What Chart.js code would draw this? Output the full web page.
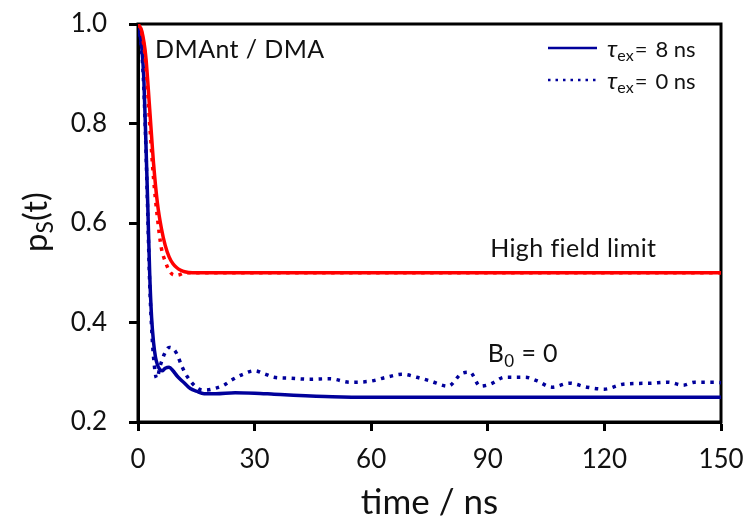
<!DOCTYPE html>
<html>
<head>
<meta charset="utf-8">
<script src="https://cdn.jsdelivr.net/npm/chart.js@4.4.0/dist/chart.umd.min.js"></script>
<style>
  html, body { margin: 0; padding: 0; background: #fff; }
  #wrap { width: 745px; height: 524px; }
</style>
</head>
<body>
<div id="wrap"><canvas id="chart" width="745" height="524"></canvas></div>
<script>
const xTicks = [0, 30, 60, 90, 120, 150];
const yTicks = [0.2, 0.4, 0.6, 0.8, 1.0];

// high field limit, tau_ex = 8 ns
const tRedSolid = [0, 1, 2, 3, 4, 5, 6, 7, 8, 9, 10, 11, 12, 14, 16, 150];
const redSolid  = [1.0, 0.985, 0.935, 0.83, 0.72, 0.64, 0.59, 0.555, 0.532, 0.518, 0.51, 0.505, 0.502, 0.5, 0.5, 0.5];

// high field limit, tau_ex = 0 ns
const tRedDot = [0, 1, 2, 3, 4, 5, 6, 7, 8, 9, 10, 11, 12, 150];
const redDot  = [1.0, 0.98, 0.92, 0.8, 0.69, 0.61, 0.55, 0.523, 0.505, 0.496, 0.495, 0.497, 0.5, 0.5];

// B0 = 0, tau_ex = 8 ns
const tBlueSolid = [0, 1, 1.5, 2, 2.5, 3, 3.5, 4, 4.5, 5, 5.5, 6.2, 7, 8, 9, 10, 11, 12, 13, 14, 15, 17, 20, 25, 30, 35, 40, 50, 60, 150];
const blueSolid  = [1.0, 0.95, 0.89, 0.77, 0.64, 0.5, 0.41, 0.36, 0.33, 0.315, 0.307, 0.303, 0.308, 0.31, 0.303, 0.293, 0.285, 0.278, 0.27, 0.265, 0.262, 0.257, 0.257, 0.259, 0.258, 0.256, 0.254, 0.251, 0.25, 0.25];

// B0 = 0, tau_ex = 0 ns
const tBlueDot = [0, 1, 1.5, 2, 2.5, 3, 3.5, 4, 4.8, 5.8, 6.7, 8, 9.7, 11.4, 12.7, 15.3, 17.4, 20, 22.1, 24, 27, 30, 32.5, 35, 39, 44, 49.4, 54.5, 59.7, 64, 68, 71.7, 75, 79.8, 83.4, 85.4, 88, 90.6, 94.4, 99.6, 102.6, 106.5, 111, 115.5, 120, 124.8, 131.7, 136.4, 140.2, 143.3, 148, 150];
const blueDot  = [1.0, 0.94, 0.87, 0.76, 0.62, 0.48, 0.39, 0.33, 0.288, 0.315, 0.335, 0.35, 0.341, 0.31, 0.291, 0.268, 0.264, 0.268, 0.274, 0.284, 0.296, 0.303, 0.297, 0.29, 0.288, 0.286, 0.287, 0.28, 0.282, 0.29, 0.296, 0.29, 0.283, 0.272, 0.298, 0.3, 0.272, 0.276, 0.29, 0.29, 0.283, 0.27, 0.278, 0.27, 0.266, 0.276, 0.278, 0.28, 0.274, 0.28, 0.28, 0.279];

const RED = '#ff0000';
const BLUE = '#00009b';
const FONT = "Lato, 'DejaVu Sans', sans-serif";

function pairs(xs, ys) {
    return xs.map((x, i) => ({ x: x, y: ys[i] }));
}

function series(xs, ys, color, dotted) {
    return {
        data: pairs(xs, ys),
        borderColor: color,
        borderWidth: 3.5,
        borderDash: dotted ? [3.5, 5.5] : [],
        borderCapStyle: 'butt',
        pointRadius: 0,
        fill: false,
        cubicInterpolationMode: 'monotone'
    };
}

const decor = {
    id: 'decor',
    beforeDatasetsDraw(chart) {
        const { ctx, chartArea: a } = chart;
        ctx.save();
        ctx.strokeStyle = '#000';
        ctx.lineWidth = 3;
        ctx.strokeRect(a.left, a.top, a.right - a.left, a.bottom - a.top);
        ctx.restore();
    },
    afterDraw(chart) {
        const { ctx, scales: { x, y } } = chart;
        ctx.save();
        ctx.fillStyle = '#111';
        ctx.textBaseline = 'alphabetic';
        ctx.textAlign = 'left';
        ctx.letterSpacing = '0.4px';

        // annotations
        ctx.font = '25px ' + FONT;
        ctx.fillText('DMAnt / DMA', x.getPixelForValue(4.4), y.getPixelForValue(0.932));
        ctx.fillText('High field limit', x.getPixelForValue(90.6), y.getPixelForValue(0.532));
        let bx = x.getPixelForValue(90), by = y.getPixelForValue(0.32);
        ctx.fillText('B', bx, by);
        let w = ctx.measureText('B').width;
        ctx.font = '17px ' + FONT;
        ctx.fillText('0', bx + w, by + 5);
        w += ctx.measureText('0').width;
        ctx.font = '25px ' + FONT;
        ctx.fillText(' = 0', bx + w, by);

        // legend
        ctx.letterSpacing = '0px';
        const rows = [
            { label: '8 ns', color: BLUE, dotted: false, yMid: 48 },
            { label: '0 ns', color: BLUE, dotted: true, yMid: 80 }
        ];
        rows.forEach(r => {
            ctx.strokeStyle = r.color;
            ctx.lineWidth = 2.5;
            ctx.setLineDash(r.dotted ? [2.5, 5] : []);
            ctx.beginPath();
            ctx.moveTo(548, r.yMid);
            ctx.lineTo(597, r.yMid);
            ctx.stroke();
            ctx.setLineDash([]);
            const base = r.yMid + 9;
            let px = 607;
            ctx.font = 'italic 24px ' + FONT;
            ctx.fillText('τ', px, base);
            px += ctx.measureText('τ').width;
            ctx.font = '16px ' + FONT;
            ctx.fillText('ex', px, base + 4);
            px += ctx.measureText('ex').width + 1;
            ctx.font = '22px ' + FONT;
            ctx.fillText('=', px, base);
            px += ctx.measureText('=').width + 8;
            ctx.fillText(r.label, px, base);
        });

        // y axis title p_S(t)
        ctx.translate(47, 222);
        ctx.rotate(-Math.PI / 2);
        ctx.font = '33px ' + FONT;
        const pW = ctx.measureText('p').width;
        ctx.font = '23px ' + FONT;
        const sW = ctx.measureText('S').width;
        ctx.font = '33px ' + FONT;
        const rW = ctx.measureText('(t)').width;
        let sx = -(pW + sW + rW) / 2;
        ctx.fillText('p', sx, 0);
        ctx.font = '23px ' + FONT;
        ctx.fillText('S', sx + pW, 6);
        ctx.font = '33px ' + FONT;
        ctx.fillText('(t)', sx + pW + sW, 0);
        ctx.restore();
    }
};

new Chart(document.getElementById('chart'), {
    type: 'line',
    data: {
        datasets: [
            series(tRedDot, redDot, RED, true),
            series(tRedSolid, redSolid, RED, false),
            series(tBlueDot, blueDot, BLUE, true),
            series(tBlueSolid, blueSolid, BLUE, false)
        ]
    },
    options: {
        responsive: false,
        animation: false,
        layout: { padding: { top: 24, right: 24, left: 0, bottom: 0 } },
        scales: {
            x: {
                type: 'linear',
                min: 0,
                max: 150,
                afterFit: s => { s.height = 102; s.paddingLeft = 0; s.paddingRight = 0; },
                afterBuildTicks: s => { s.ticks = xTicks.map(v => ({ value: v })); },
                grid: { drawOnChartArea: false, tickLength: 9, tickWidth: 3, tickColor: '#000' },
                border: { color: '#000', width: 3 },
                ticks: { color: '#111', padding: 13, font: { family: FONT, size: 26 }, maxRotation: 0 },
                title: { display: true, text: 'time / ns', color: '#111', font: { family: FONT, size: 35 }, padding: { top: 0, bottom: 0 } }
            },
            y: {
                min: 0.2,
                max: 1.0,
                afterFit: s => { s.width = 138; s.paddingTop = 0; s.paddingBottom = 0; },
                afterBuildTicks: s => { s.ticks = yTicks.map(v => ({ value: v })); },
                grid: { drawOnChartArea: false, tickLength: 9, tickWidth: 3, tickColor: '#000' },
                border: { color: '#000', width: 3 },
                ticks: { color: '#111', padding: 22, font: { family: FONT, size: 26 }, callback: v => v.toFixed(1) }
            }
        },
        plugins: {
            legend: { display: false },
            tooltip: { enabled: false }
        }
    },
    plugins: [decor]
});
</script>
</body>
</html>
